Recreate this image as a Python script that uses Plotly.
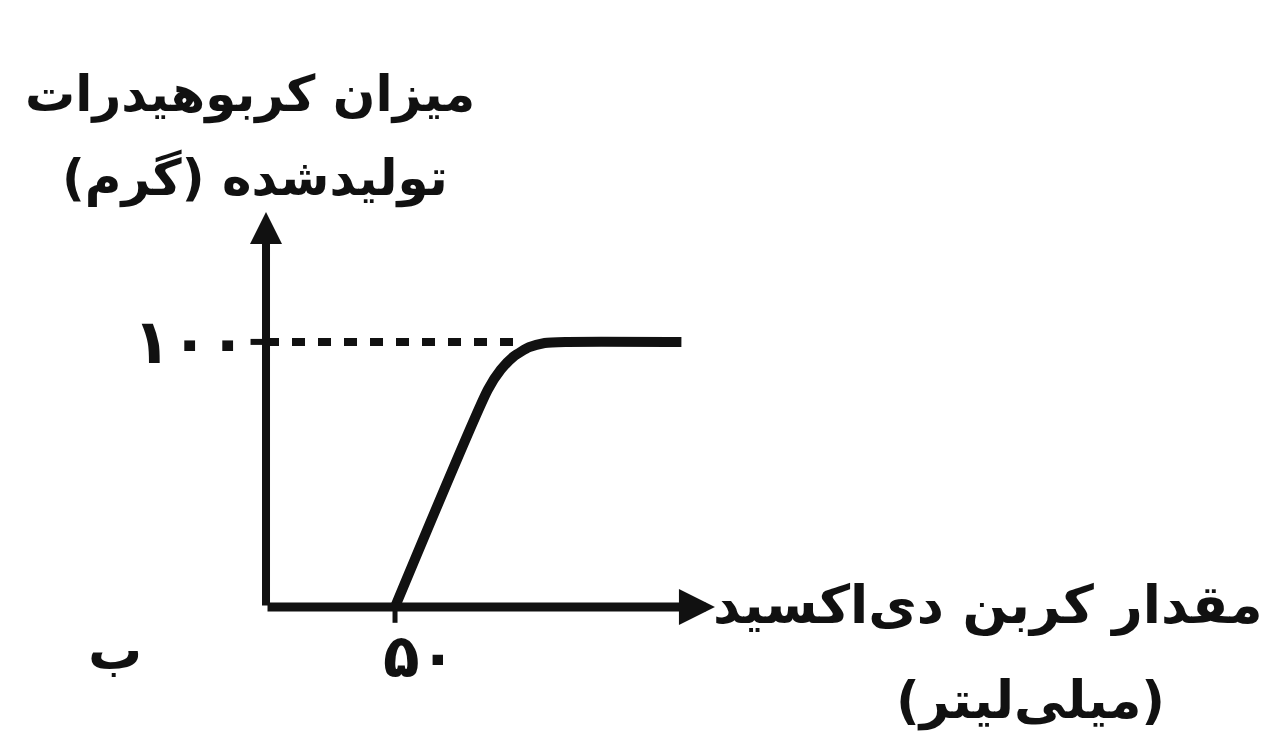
import plotly.graph_objects as go

# curve: carbohydrate produced (g) vs CO2 amount (ml)
co2_ml = [50, 86, 91, 96, 102, 108, 116, 161]
carb_g = [0, 82, 89.5, 94.5, 98, 99.6, 100, 100]

# dotted reference line at the plateau
ref_x = [0, 97]
ref_y = [100, 100]

x_ticks = [50]
x_tick_text = ["۵۰"]
y_ticks = [100]
y_tick_text = ["۱۰۰"]

y_title = ["میزان کربوهیدرات", "تولیدشده (گرم)"]
x_title = ["مقدار کربن دی‌اکسید", "(میلی‌لیتر)"]
panel_label = "ب"

x_axis_end = 174
y_axis_end = 149

INK = "#111111"
FONT = "DejaVu Sans, Noto Sans, sans-serif"
RLM = "\u200f"
W, H = 1272, 742
OFF = 8  # page body margin


def rtl(s):
    return RLM + s + RLM


def px_x(p):
    return (p - OFF) / W


def px_y(p):
    return 1 - (p - OFF) / H


fig = go.Figure()

fig.add_trace(
    go.Scatter(
        x=ref_x, y=ref_y, mode="lines",
        line=dict(color=INK, width=8, dash="13px,13px"),
        hoverinfo="skip",
    )
)
fig.add_trace(
    go.Scatter(
        x=co2_ml, y=carb_g, mode="lines",
        line=dict(color=INK, width=10, shape="spline", smoothing=0.6),
        hoverinfo="skip",
    )
)

# axes drawn as arrows from the origin
fig.add_annotation(
    x=x_axis_end, y=0, ax=0, ay=0, xref="x", yref="y", axref="x", ayref="y",
    showarrow=True, arrowhead=2, arrowsize=0.8, arrowwidth=9, arrowcolor=INK,
    text="",
)
fig.add_annotation(
    x=0, y=y_axis_end, ax=0, ay=0, xref="x", yref="y", axref="x", ayref="y",
    showarrow=True, arrowhead=2, arrowsize=0.8, arrowwidth=8, arrowcolor=INK,
    text="",
)

# ticks and tick labels
for xv, lab in zip(x_ticks, x_tick_text):
    fig.add_shape(type="line", x0=xv, x1=xv, y0=0, y1=-6,
                  line=dict(color=INK, width=5))
    fig.add_annotation(x=xv, y=0, text="<b>" + lab + "</b>", showarrow=False,
                       xanchor="center", yanchor="top", xshift=24, yshift=-12,
                       font=dict(family=FONT, size=60, color=INK))
for yv, lab in zip(y_ticks, y_tick_text):
    fig.add_shape(type="line", x0=-6, x1=0, y0=yv, y1=yv,
                  line=dict(color=INK, width=6))
    fig.add_annotation(x=-6, y=yv, text="<b>" + lab + "</b>", showarrow=False,
                       xanchor="right", yanchor="middle", xshift=-2,
                       font=dict(family=FONT, size=62, color=INK))

# axis titles
titles = [
    (y_title[0], 250, 95, 50),
    (y_title[1], 255, 178, 50),
    (x_title[0], 988, 605, 53),
    (x_title[1], 1030, 700, 52),
    (panel_label, 115, 650, 54),
]
for txt, cx, cy, fs in titles:
    fig.add_annotation(x=px_x(cx), y=px_y(cy), xref="paper", yref="paper",
                       text="<b>" + rtl(txt) + "</b>", showarrow=False,
                       xanchor="center", yanchor="middle",
                       font=dict(family=FONT, size=fs, color=INK))

fig.update_layout(
    width=W, height=H,
    margin=dict(t=0, b=0, l=0, r=0),
    paper_bgcolor="white", plot_bgcolor="white",
    showlegend=False,
    xaxis=dict(range=[-100.0, 393.0], visible=False, fixedrange=True),
    yaxis=dict(range=[-54.0, 226.0], visible=False, fixedrange=True),
)

fig.write_html("out.html")
